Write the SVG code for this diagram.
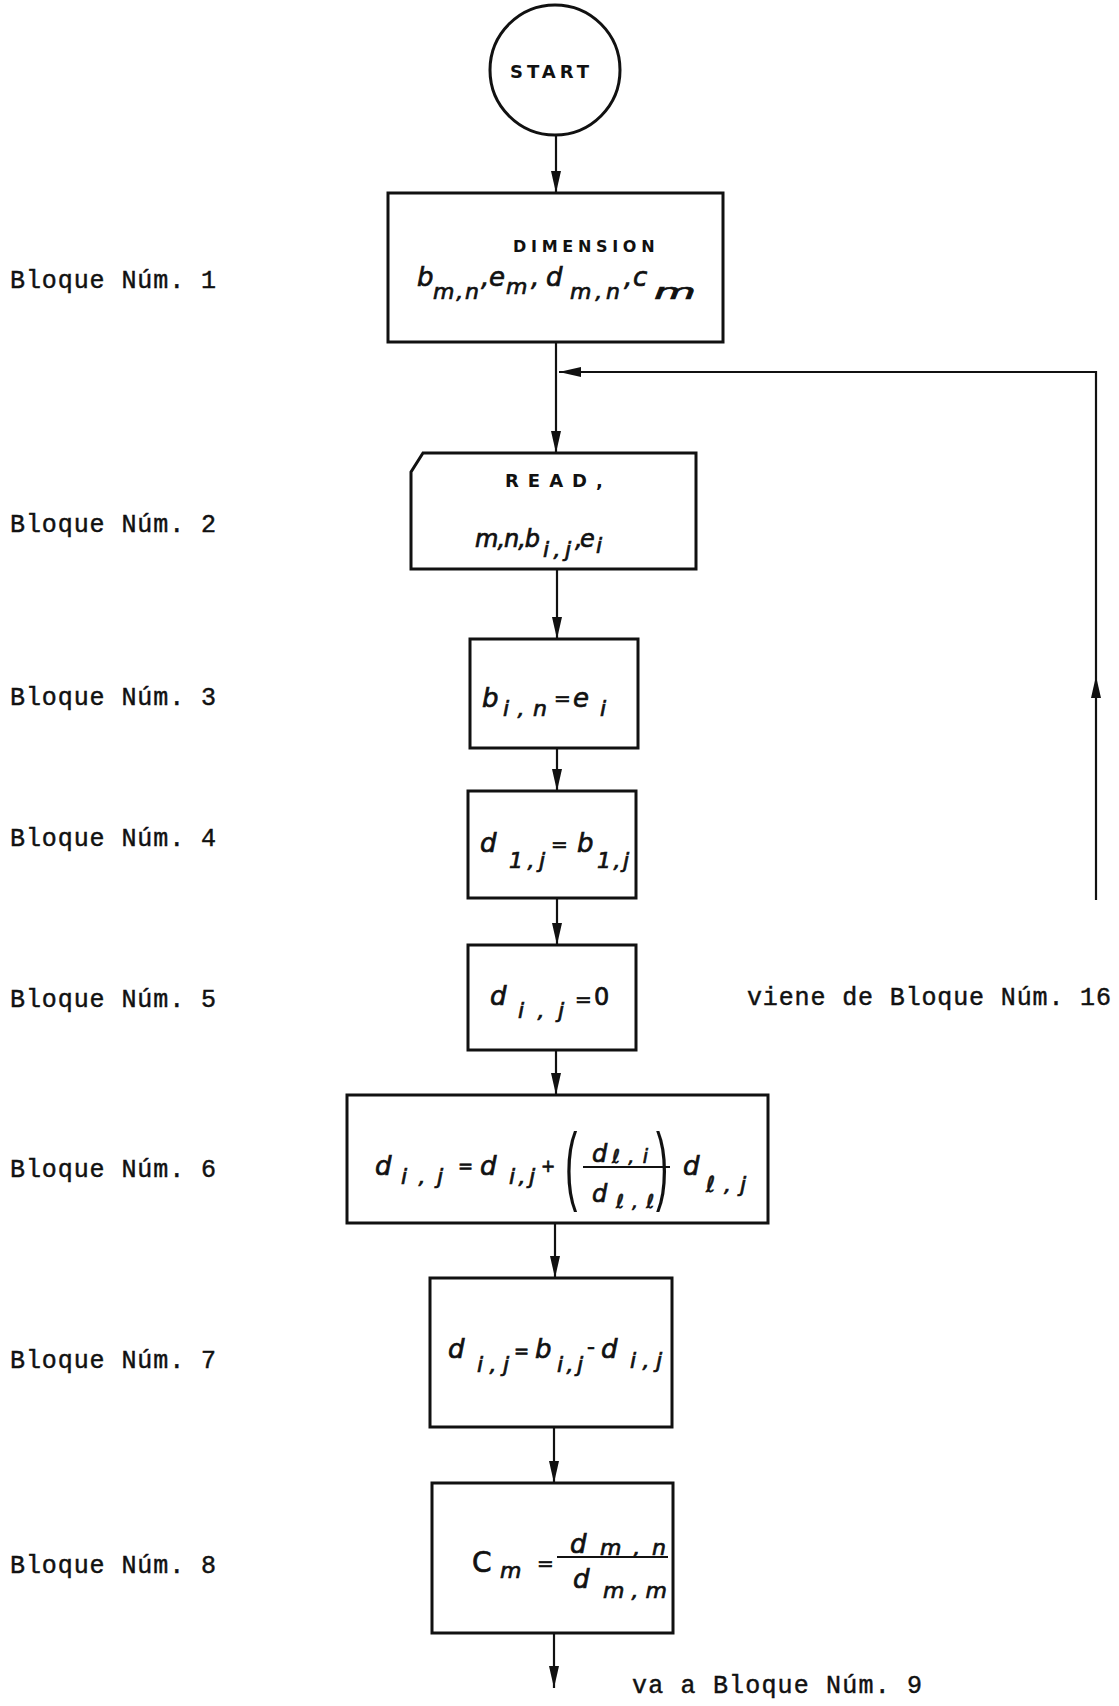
<svg xmlns="http://www.w3.org/2000/svg" width="1119" height="1706" viewBox="0 0 1119 1706">
<style>
.shape{fill:#fff;stroke:#111;stroke-width:3}
.conn{fill:none;stroke:#111;stroke-width:2.2}
.lbl{font-family:"Liberation Mono","DejaVu Sans Mono",monospace;font-size:25px;fill:#111;stroke:#111;stroke-width:0.45}
.cap{font-family:"DejaVu Sans",sans-serif;font-weight:bold;fill:#111}
.f{font-family:"DejaVu Sans",sans-serif;font-style:italic;font-size:26px;fill:#111;stroke:#111;stroke-width:0.7}
.s{font-size:22px}
.u{font-style:normal}
.par{font-family:"Liberation Sans",sans-serif;font-size:88px;fill:#111}
.bar{stroke:#111;stroke-width:2}
</style>
<defs>
<marker id="arr" markerUnits="userSpaceOnUse" viewBox="0 0 22 10" refX="22" refY="5" markerWidth="22" markerHeight="10" orient="auto">
<path d="M0,0 L22,5 L0,10 Z" fill="#111"/>
</marker>
</defs>

<g id="connectors">
<line class="conn" x1="556" y1="136" x2="556" y2="193" marker-end="url(#arr)"/>
<line class="conn" x1="556" y1="342" x2="556" y2="453" marker-end="url(#arr)"/>
<line class="conn" x1="557" y1="569" x2="557" y2="639" marker-end="url(#arr)"/>
<line class="conn" x1="557" y1="748" x2="557" y2="791" marker-end="url(#arr)"/>
<line class="conn" x1="557" y1="898" x2="557" y2="945" marker-end="url(#arr)"/>
<line class="conn" x1="556" y1="1050" x2="556" y2="1095" marker-end="url(#arr)"/>
<line class="conn" x1="555" y1="1223" x2="555" y2="1278" marker-end="url(#arr)"/>
<line class="conn" x1="554" y1="1427" x2="554" y2="1483" marker-end="url(#arr)"/>
<line class="conn" x1="554" y1="1633" x2="554" y2="1688" marker-end="url(#arr)"/>
<line class="conn" x1="1096" y1="900" x2="1096" y2="676" marker-end="url(#arr)"/>
<path class="conn" d="M1096,676 V372 H559" marker-end="url(#arr)"/>
</g>

<g id="start">
<circle class="shape" cx="555" cy="70" r="65"/>
<text class="cap" x="510" y="78" font-size="18" letter-spacing="4">START</text>
</g>

<g id="bloque1">
<rect class="shape" x="388" y="193" width="335" height="149"/>
<text class="cap" x="513" y="252" font-size="16" letter-spacing="4.7">DIMENSION</text>
<text class="f" y="286"><tspan x="417">b</tspan><tspan class="s" x="433" y="299" textLength="46" lengthAdjust="spacing">m,n</tspan><tspan x="481" y="286">,</tspan><tspan x="489">e</tspan><tspan class="s" x="506" y="294">m</tspan><tspan x="531" y="286">,</tspan><tspan x="546">d</tspan><tspan class="s" x="570" y="299" textLength="50" lengthAdjust="spacing">m,n</tspan><tspan x="624" y="286">,</tspan><tspan x="633">c</tspan><tspan class="s" x="654" y="299" textLength="42" lengthAdjust="spacingAndGlyphs">m</tspan></text>
</g>

<g id="bloque2">
<path class="shape" d="M423,453 H696 V569 H411 V472 Z"/>
<text class="cap" x="505" y="487" font-size="18" letter-spacing="9">READ,</text>
<text class="f" y="547" style="font-size:24px"><tspan x="475" style="letter-spacing:-1px">m,n,b</tspan><tspan class="s" x="543" y="557" textLength="28" lengthAdjust="spacing">i,j</tspan><tspan x="575" y="547">,</tspan><tspan x="580">e</tspan><tspan class="s" x="596" y="553">i</tspan></text>
</g>

<g id="bloque3">
<rect class="shape" x="470" y="639" width="168" height="109"/>
<text class="f" y="707"><tspan x="482">b</tspan><tspan class="s" x="503" y="716" textLength="44" lengthAdjust="spacing">i,n</tspan><tspan class="u" x="554" y="705" style="font-size:20px">=</tspan><tspan x="573" y="707">e</tspan><tspan class="s" x="600" y="716">i</tspan></text>
</g>

<g id="bloque4">
<rect class="shape" x="468" y="791" width="168" height="107"/>
<text class="f" y="852"><tspan x="480">d</tspan><tspan class="s" x="509" y="868" textLength="36" lengthAdjust="spacing">1,j</tspan><tspan class="u" x="551" y="851" style="font-size:20px">=</tspan><tspan x="577" y="852">b</tspan><tspan class="s" x="597" y="868" textLength="32" lengthAdjust="spacing">1,j</tspan></text>
</g>

<g id="bloque5">
<rect class="shape" x="468" y="945" width="168" height="105"/>
<text class="f" y="1005"><tspan x="490">d</tspan><tspan class="s" x="518" y="1018" textLength="46" lengthAdjust="spacing">i,j</tspan><tspan class="u" x="575" y="1006" style="font-size:20px">=</tspan><tspan class="u" x="594" y="1005" style="font-size:24px">0</tspan></text>
</g>

<g id="bloque6">
<rect class="shape" x="347" y="1095" width="421" height="128"/>
<text class="f" y="1175"><tspan x="375">d</tspan><tspan class="s" x="401" y="1184" textLength="42" lengthAdjust="spacing">i,j</tspan><tspan class="u" x="458" y="1172" style="font-size:18px">=</tspan><tspan x="480" y="1175">d</tspan><tspan class="s" x="509" y="1184" textLength="26" lengthAdjust="spacing">i,j</tspan><tspan class="u" x="541" y="1172" style="font-size:17px">+</tspan></text>
<text class="par" transform="translate(565,1194) scale(0.42,1)">(</text>
<text class="par" transform="translate(656,1194) scale(0.42,1)">)</text>
<text class="f" y="1162" style="font-size:24px"><tspan x="592">d</tspan><tspan class="s" x="612" y="1163" style="font-size:19px" textLength="36" lengthAdjust="spacing">ℓ,i</tspan></text>
<line class="bar" x1="583" y1="1167" x2="670" y2="1167"/>
<text class="f" y="1202" style="font-size:24px"><tspan x="592">d</tspan><tspan class="s" x="616" y="1208" style="font-size:19px" textLength="38" lengthAdjust="spacing">ℓ,ℓ</tspan></text>
<text class="f" y="1175"><tspan x="683">d</tspan><tspan class="s" x="706" y="1192" textLength="40" lengthAdjust="spacing">ℓ,j</tspan></text>
</g>

<g id="bloque7">
<rect class="shape" x="430" y="1278" width="242" height="149"/>
<text class="f" y="1358"><tspan x="448">d</tspan><tspan class="s" x="477" y="1372" textLength="32" lengthAdjust="spacing">i,j</tspan><tspan class="u" x="514" y="1357" style="font-size:18px">=</tspan><tspan x="535" y="1358">b</tspan><tspan class="s" x="557" y="1372" textLength="26" lengthAdjust="spacing">i,j</tspan><tspan class="u" x="587" y="1354" style="font-size:22px">-</tspan><tspan x="601" y="1358">d</tspan><tspan class="s" x="630" y="1368" textLength="32" lengthAdjust="spacing">i,j</tspan></text>
</g>

<g id="bloque8">
<rect class="shape" x="432" y="1483" width="241" height="150"/>
<text class="f" y="1572"><tspan class="u" x="472" style="font-size:28px">C</tspan><tspan class="s" x="500" y="1578">m</tspan><tspan class="u" x="537" y="1570" style="font-size:20px">=</tspan></text>
<line class="bar" x1="557" y1="1557" x2="668" y2="1557"/>
<text class="f" y="1553"><tspan x="570">d</tspan><tspan class="s" x="600" y="1555" textLength="66" lengthAdjust="spacing">m,n</tspan></text>
<text class="f" y="1588"><tspan x="573">d</tspan><tspan class="s" x="603" y="1598" textLength="64" lengthAdjust="spacing">m,m</tspan></text>
</g>

<g id="labels">
<text class="lbl" x="10" y="288" textLength="206">Bloque Núm. 1</text>
<text class="lbl" x="10" y="532" textLength="206">Bloque Núm. 2</text>
<text class="lbl" x="10" y="705" textLength="206">Bloque Núm. 3</text>
<text class="lbl" x="10" y="846" textLength="206">Bloque Núm. 4</text>
<text class="lbl" x="10" y="1007" textLength="206">Bloque Núm. 5</text>
<text class="lbl" x="10" y="1177" textLength="206">Bloque Núm. 6</text>
<text class="lbl" x="10" y="1368" textLength="206">Bloque Núm. 7</text>
<text class="lbl" x="10" y="1573" textLength="206">Bloque Núm. 8</text>
<text class="lbl" x="747" y="1005" textLength="364">viene de Bloque Núm. 16</text>
<text class="lbl" x="632" y="1693" textLength="290">va a Bloque Núm. 9</text>
</g>
</svg>
